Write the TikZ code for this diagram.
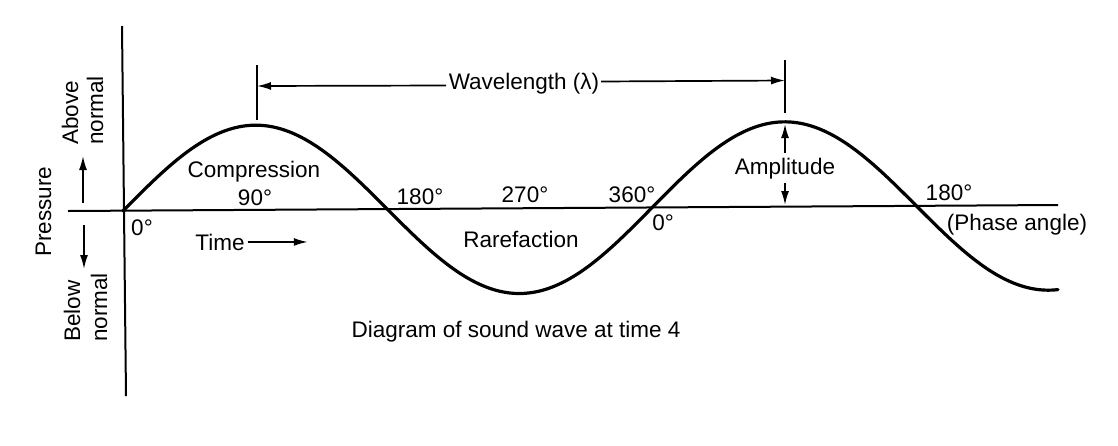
\documentclass[tikz,border=0pt]{standalone}
\usepackage{fontspec}
\setmainfont{Liberation Sans}
\usetikzlibrary{arrows.meta}
\begin{document}
\begin{tikzpicture}[x=1pt,y=-1pt,
  lbl/.style={font=\fontsize{22.5}{26}\selectfont, inner sep=0pt, anchor=base},
  vlbl/.style={lbl, rotate=90, anchor=base west},
  arr/.style={line width=1.7pt, -{Latex[length=14pt,width=8pt]}},
  ax/.style={line width=2pt},
  wave/.style={line width=3.2pt, line cap=round}]
\useasboundingbox (0,0) rectangle (1118,445);
\fill[white] (0,0) rectangle (1118,445);
% axes
\coordinate (vtop) at (122,26);
\coordinate (vbot) at (126,396);
\coordinate (hleft) at (68,211);
\coordinate (hright) at (1058,205);
\draw[ax] (vtop) -- (vbot);
\draw[ax] (hleft) -- (hright);
% wave
\draw[wave] plot[domain=123:1058, samples=300, smooth]
  (\x, {211-0.0063*(\x-123)-85*sin(0.68053*(\x-123))});
% wavelength marker
\coordinate (tLtop) at (257,65);
\coordinate (tLbot) at (257,120);
\coordinate (tRtop) at (785,60);
\coordinate (tRbot) at (785,113);
\draw[ax] (tLtop) -- (tLbot);
\draw[ax] (tRtop) -- (tRbot);
\node[lbl] (wl) at (524,89) {Wavelength (λ)};
\coordinate (wlLa) at (446,85.5);
\coordinate (wlLb) at (257,86);
\coordinate (wlRa) at (601,81.5);
\coordinate (wlRb) at (785,80.5);
\draw[arr] (wlLa) -- (wlLb);
\draw[arr] (wlRa) -- (wlRb);
% amplitude
\node[lbl] (amp) at (785,174) {Amplitude};
\coordinate (ampUa) at (785,153);
\coordinate (ampUb) at (785,124);
\coordinate (ampDa) at (785,183);
\coordinate (ampDb) at (785,205);
\draw[arr] (ampUa) -- (ampUb);
\draw[arr] (ampDa) -- (ampDb);
% pressure labels
\node[vlbl] (above1) at (78,145) {Above};
\node[vlbl] (above2) at (103,145) {normal};
\node[vlbl] (press) at (51,257) {Pressure};
\node[vlbl] (below1) at (80,342) {Below};
\node[vlbl] (below2) at (107,342) {normal};
\coordinate (upA) at (83,203);
\coordinate (upB) at (83,156);
\coordinate (dnA) at (84,225);
\coordinate (dnB) at (84,269);
\draw[arr] (upA) -- (upB);
\draw[arr] (dnA) -- (dnB);
% wave labels
\node[lbl] (comp) at (254,177) {Compression};
\node[lbl] (d90) at (255,205) {90°};
\node[lbl] (d180a) at (420,204) {180°};
\node[lbl] (d270) at (525,202) {270°};
\node[lbl] (d360) at (632,202) {360°};
\node[lbl] (d180b) at (949,200) {180°};
\node[lbl] (d0a) at (142,235) {0°};
\node[lbl] (d0b) at (663,230) {0°};
\node[lbl] (rare) at (521,247) {Rarefaction};
\node[lbl] (phase) at (1017,230) {(Phase angle)};
\node[lbl] (time) at (220,250) {Time};
\draw[arr] ([xshift=3pt]time.east) -- ++(60,0);
\node[lbl] (cap) at (516,337) {Diagram of sound wave at time 4};
\end{tikzpicture}
\end{document}
